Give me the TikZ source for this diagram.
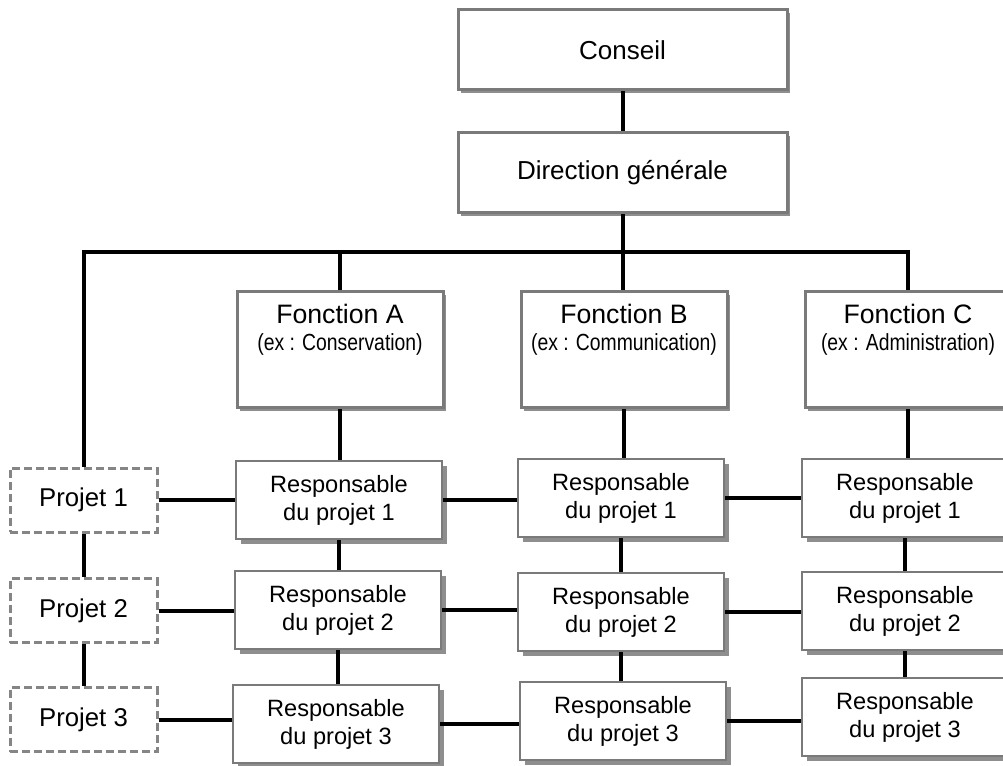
\documentclass[tikz,border=0pt]{standalone}
\usepackage{fontspec}
\setmainfont{Liberation Sans}
\usetikzlibrary{shadows}
\definecolor{boxgray}{HTML}{7A7A7A}
\definecolor{shadowgray}{HTML}{8E8E8E}
\definecolor{dashgray}{HTML}{858585}
\tikzset{
  topbox/.style={draw=boxgray, line width=2.25pt, fill=white, inner sep=0pt,
    minimum width=246.75pt, minimum height=60pt,
    font=\fontsize{19.5pt}{23pt}\selectfont,
    drop shadow={shadow xshift=2pt, shadow yshift=-2pt, fill=shadowgray, opacity=1}},
  funcbox/.style={topbox, minimum width=154.5pt, minimum height=87pt},
  resbox/.style={draw=boxgray, line width=1.5pt, fill=white, inner sep=0pt,
    minimum width=154.5pt, minimum height=58.5pt, align=center,
    font=\fontsize{17.7pt}{21pt}\selectfont,
    drop shadow={shadow xshift=3.75pt, shadow yshift=-3.75pt, fill=shadowgray, opacity=1}},
  projbox/.style={draw=dashgray, line width=2.25pt, dash pattern=on 6pt off 3pt,
    fill=white, inner sep=0pt, minimum width=110.25pt, minimum height=48pt,
    font=\fontsize{19.3pt}{23pt}\selectfont},
  functitle/.style={anchor=base, inner sep=0pt, font=\fontsize{20pt}{24pt}\selectfont},
  funcsub/.style={anchor=base, inner sep=0pt, font=\fontsize{17.5pt}{20pt}\selectfont},
  link/.style={draw=black, line width=3pt},
}
\newcommand{\narrowtext}[1]{\scalebox{0.83}[1]{#1}}
\begin{document}
\begin{tikzpicture}[x=0.75pt, y=-0.75pt]
  \useasboundingbox (0,0) rectangle (1003,766);
  \clip (0,0) rectangle (1003,766);

  % top of the hierarchy
  \node[topbox] (CO) at (622.5,50)  {Conseil};
  \node[topbox] (DG) at (622.5,173) {Direction générale};

  % functions
  \node[funcbox] (FA) at (340,350) {};
  \node[funcbox] (FB) at (624,350) {};
  \node[funcbox] (FC) at (908,350) {};
  \node[functitle] (FAt) at ([yshift=-24.75pt]FA.north) {Fonction A};
  \node[funcsub]   (FAs) at ([yshift=-45pt]FA.north) {\narrowtext{(ex : Conservation)}};
  \node[functitle] (FBt) at ([yshift=-24.75pt]FB.north) {Fonction B};
  \node[funcsub]   (FBs) at ([yshift=-45pt]FB.north) {\narrowtext{(ex : Communication)}};
  \node[functitle] (FCt) at ([yshift=-24.75pt]FC.north) {Fonction C};
  \node[funcsub]   (FCs) at ([yshift=-45pt]FC.north) {\narrowtext{(ex : Administration)}};

  % projects
  \node[projbox] (P1) at (83.5,500)   {Projet 1};
  \node[projbox] (P2) at (83.5,610.5) {Projet 2};
  \node[projbox] (P3) at (83.5,719.5) {Projet 3};

  % project managers per function
  \node[resbox] (RA1) at (339,500) {Responsable\\du projet 1};
  \node[resbox] (RA2) at (338,610) {Responsable\\du projet 2};
  \node[resbox] (RA3) at (336,724) {Responsable\\du projet 3};
  \node[resbox] (RB1) at (621,498) {Responsable\\du projet 1};
  \node[resbox] (RB2) at (621,612) {Responsable\\du projet 2};
  \node[resbox] (RB3) at (623,721) {Responsable\\du projet 3};
  \node[resbox] (RC1) at (905,498) {Responsable\\du projet 1};
  \node[resbox] (RC2) at (905,611) {Responsable\\du projet 2};
  \node[resbox] (RC3) at (905,717) {Responsable\\du projet 3};

  % connectors
  \coordinate (bus) at (0,252);
  \draw[link] (CO.south) -- (CO.south |- DG.north);
  \draw[link] (DG.south) -- (DG.south |- FB.north);
  \draw[link] (P1.north) |- (bus -| FC.north) -- (FC.north);
  \draw[link] (FA.north) -- (FA.north |- bus);

  \draw[link] (FA.south) -- (FA.south |- RA1.north);
  \draw[link] (FB.south) -- (FB.south |- RB1.north);
  \draw[link] (FC.south) -- (FC.south |- RC1.north);

  \draw[link] (RA1.south) -- (RA1.south |- RA2.north);
  \draw[link] (RA2.south) -- (RA2.south |- RA3.north);
  \draw[link] (RB1.south) -- (RB1.south |- RB2.north);
  \draw[link] (RB2.south) -- (RB2.south |- RB3.north);
  \draw[link] (RC1.south) -- (RC1.south |- RC2.north);
  \draw[link] (RC2.south) -- (RC2.south |- RC3.north);

  \draw[link] (P1.south) -- (P2.north);
  \draw[link] (P2.south) -- (P3.north);

  \draw[link] (P1.east)  -- (P1.east -| RA1.west);
  \draw[link] (RA1.east) -- (RA1.east -| RB1.west);
  \draw[link] (RB1.east) -- (RB1.east -| RC1.west);
  \draw[link] (P2.east)  -- (P2.east -| RA2.west);
  \draw[link] (RA2.east) -- (RA2.east -| RB2.west);
  \draw[link] (RB2.east) -- (RB2.east -| RC2.west);
  \draw[link] (P3.east)  -- (P3.east -| RA3.west);
  \draw[link] (RA3.east) -- (RA3.east -| RB3.west);
  \draw[link] (RB3.east) -- (RB3.east -| RC3.west);
\end{tikzpicture}
\end{document}
